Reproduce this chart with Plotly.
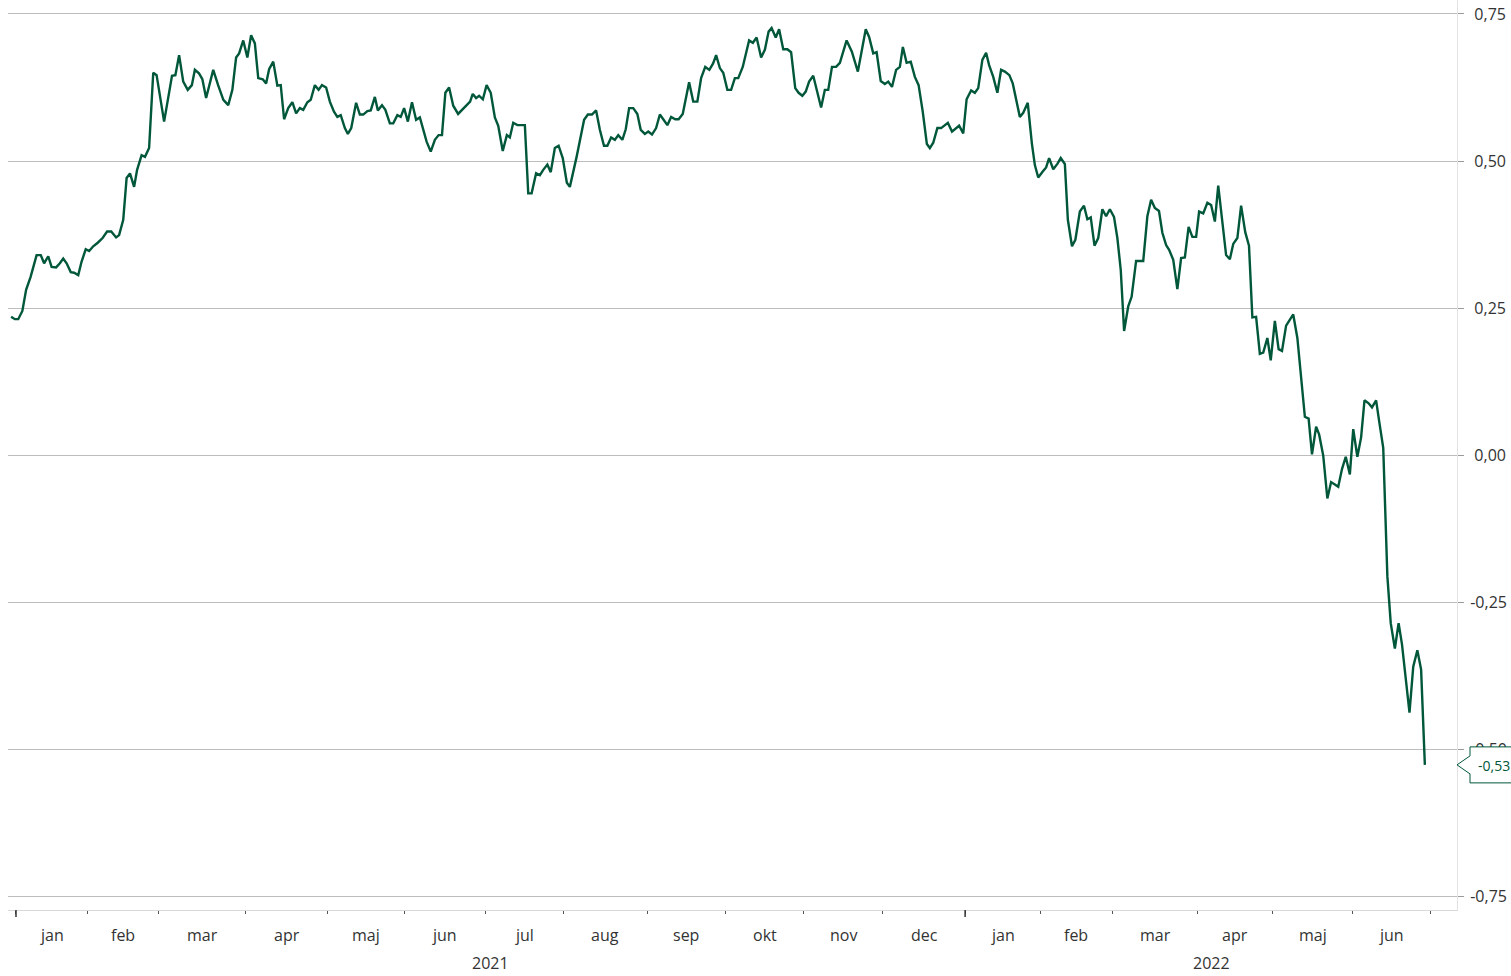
import plotly.graph_objects as go

# ---- data (x = trading-day index from 1 Jan 2021) ----
x_day = [
    -1.3, -0.3, 0.6, 1.7, 2.7, 3.9, 5.5, 6.6, 7.5, 8.6, 9.5, 10.7, 11.7, 12.6, 13.5, 14.6, 15.5, 16.6, 17.5, 18.6,
    19.5, 20.6, 21.8, 23.1, 24.3, 25.4, 26.7, 27.5, 28.6, 29.5, 30.4, 31.5, 32.3, 33.5, 34.4, 35.5, 36.6, 37.5, 39.5, 40.6,
    41.6, 42.5, 43.5, 44.6, 45.8, 46.9, 47.7, 48.8, 49.7, 50.7, 52.6, 53.9, 55.3, 56.6, 57.7, 58.7, 59.5, 60.6, 61.7, 62.7,
    63.7, 64.6, 65.8, 66.7, 67.5, 68.6, 69.7, 70.6, 71.5, 72.6, 73.7, 74.7, 75.7, 76.6, 77.7, 78.6, 79.7, 80.7, 81.6, 82.7,
    83.7, 84.8, 85.7, 86.6, 87.7, 88.5, 89.4, 90.7, 91.7, 92.6, 93.7, 94.6, 95.7, 96.5, 97.6, 98.5, 99.7, 100.6, 101.7, 102.6,
    103.5, 104.5, 105.6, 106.7, 107.7, 109.5, 110.6, 111.7, 112.7, 113.6, 114.5, 115.5, 116.6, 117.9, 118.9, 120.0, 121.1, 121.8, 122.7, 123.5,
    124.5, 125.5,
    126.6, 127.7, 128.6, 129.8, 130.9, 131.7, 132.6, 133.7, 135.7, 136.6, 137.5, 138.7, 139.7, 140.6, 141.7, 142.6, 143.7, 144.7, 145.8, 146.9,
    147.7, 149.5, 151.5, 152.5, 153.6, 154.7, 155.7, 156.8, 157.7, 158.7, 159.7, 160.6, 161.7, 162.6, 163.5, 164.6, 165.7, 166.6, 167.7, 168.6,
    169.6, 170.7, 171.7, 172.6, 173.7, 174.7, 175.8, 176.7, 177.8, 179.5, 180.6, 181.7, 182.7, 183.8, 184.9, 185.9, 186.7, 187.7, 188.6,
    189.7, 190.7, 191.7, 192.6, 193.8, 195.5, 196.5, 197.5, 198.7, 199.7, 200.7, 201.5, 202.6, 203.5, 204.6, 205.7, 206.7, 207.8, 208.7, 209.7,
    210.6, 211.5, 212.6, 214.7, 215.7, 216.6, 217.6, 218.7, 219.7, 221.5, 222.9, 224.5, 226.6, 227.5, 228.6, 229.5, 230.6, 231.7, 232.6, 233.6,
    234.7, 235.7, 236.5, 237.5, 238.6, 239.7, 240.7, 241.8, 242.9, 243.7, 244.6, 245.7, 246.7, 248.5, 249.6, 251.5, 252.6, 253.5,
    254.7, 255.7, 256.6, 257.7, 258.7, 259.5, 260.6, 261.7, 262.7, 263.7, 264.9, 265.8, 267.7, 268.6, 269.8, 270.9, 271.7, 272.6, 273.8, 274.7,
    275.5, 276.6, 277.7, 278.6, 279.7, 280.5, 281.6, 282.5, 283.7, 284.8, 285.7, 286.6, 287.6, 288.6, 289.7, 290.7, 291.7, 292.8, 293.7, 294.6,
    295.5, 296.6, 297.5, 298.7, 300.6, 301.7, 302.7, 303.7, 304.8, 305.7, 306.7, 307.5, 308.6, 309.7, 310.7, 311.7, 312.7, 313.7, 314.7, 315.5,
    316.6, 317.7, 318.7, 319.7, 320.6, 321.6, 322.7, 323.7, 324.6, 325.7, 326.7, 327.8, 328.8, 329.7, 330.7, 331.7, 332.6, 333.7, 334.6, 335.7,
    336.7, 337.6, 338.7, 340.6, 341.7, 343.7, 344.7, 345.6, 346.7, 347.5, 348.6, 349.7, 350.7, 351.7, 352.6, 353.6, 354.6, 355.7, 356.6, 357.7,
    358.7, 359.6, 360.7, 361.6, 362.7, 363.5, 364.6, 365.7, 366.6, 367.7, 368.7, 369.6, 370.7, 371.6, 372.6, 373.7, 374.7, 375.7,
]

value = [
    0.235, 0.231, 0.231, 0.245, 0.281, 0.303, 0.340, 0.340, 0.326, 0.338, 0.320, 0.319, 0.326, 0.334, 0.326, 0.311, 0.310, 0.306, 0.329, 0.350,
    0.347, 0.355, 0.361, 0.369, 0.380, 0.380, 0.370, 0.374, 0.400, 0.471, 0.479, 0.456, 0.485, 0.510, 0.507, 0.522, 0.650, 0.646, 0.567, 0.612,
    0.645, 0.646, 0.680, 0.635, 0.621, 0.629, 0.655, 0.649, 0.639, 0.607, 0.655, 0.629, 0.604, 0.595, 0.621, 0.676, 0.683, 0.705, 0.676, 0.714,
    0.700, 0.641, 0.639, 0.632, 0.656, 0.669, 0.628, 0.629, 0.571, 0.590, 0.600, 0.581, 0.590, 0.587, 0.600, 0.604, 0.629, 0.621, 0.629, 0.625,
    0.601, 0.584, 0.575, 0.578, 0.556, 0.546, 0.556, 0.599, 0.579, 0.579, 0.585, 0.586, 0.609, 0.586, 0.595, 0.587, 0.564, 0.564, 0.578, 0.575,
    0.590, 0.567, 0.600, 0.570, 0.574, 0.533, 0.516, 0.536, 0.544, 0.544, 0.616, 0.625, 0.594, 0.580, 0.587, 0.595, 0.601, 0.614, 0.607, 0.611,
    0.605, 0.629,
    0.616, 0.574, 0.560, 0.517, 0.544, 0.540, 0.565, 0.561, 0.561, 0.445, 0.445, 0.479, 0.476, 0.485, 0.494, 0.481, 0.522, 0.526, 0.505, 0.463,
    0.456, 0.507, 0.570, 0.579, 0.579, 0.586, 0.553, 0.526, 0.526, 0.540, 0.536, 0.544, 0.536, 0.554, 0.590, 0.590, 0.580, 0.553, 0.546, 0.550,
    0.545, 0.556, 0.579, 0.571, 0.561, 0.575, 0.571, 0.571, 0.580, 0.634, 0.601, 0.601, 0.641, 0.660, 0.655, 0.666, 0.680, 0.658, 0.650,
    0.621, 0.621, 0.641, 0.641, 0.660, 0.705, 0.701, 0.710, 0.676, 0.689, 0.720, 0.726, 0.710, 0.724, 0.690, 0.690, 0.685, 0.624, 0.616, 0.611,
    0.618, 0.635, 0.645, 0.591, 0.621, 0.621, 0.660, 0.660, 0.667, 0.705, 0.686, 0.652, 0.724, 0.711, 0.683, 0.685, 0.636, 0.631, 0.635, 0.626,
    0.655, 0.660, 0.694, 0.667, 0.669, 0.643, 0.629, 0.584, 0.529, 0.522, 0.531, 0.556, 0.556, 0.565, 0.550, 0.560, 0.547, 0.605,
    0.620, 0.616, 0.624, 0.672, 0.684, 0.663, 0.643, 0.616, 0.655, 0.652, 0.646, 0.632, 0.575, 0.582, 0.599, 0.530, 0.493, 0.472, 0.482, 0.489,
    0.505, 0.486, 0.495, 0.505, 0.495, 0.400, 0.355, 0.366, 0.414, 0.424, 0.401, 0.404, 0.356, 0.369, 0.418, 0.406, 0.418, 0.405, 0.369, 0.315,
    0.211, 0.253, 0.269, 0.330, 0.330, 0.406, 0.434, 0.420, 0.415, 0.378, 0.357, 0.349, 0.332, 0.282, 0.335, 0.336, 0.388, 0.371, 0.371, 0.414,
    0.411, 0.429, 0.425, 0.397, 0.458, 0.405, 0.340, 0.333, 0.359, 0.369, 0.424, 0.379, 0.356, 0.234, 0.235, 0.172, 0.174, 0.199, 0.161, 0.228,
    0.180, 0.177, 0.220, 0.239, 0.199, 0.065, 0.062, 0.001, 0.048, 0.035, -0.001, -0.074, -0.046, -0.050, -0.054, -0.024, -0.003, -0.033, 0.044, -0.003,
    0.030, 0.093, 0.088, 0.081, 0.093, 0.058, 0.012, -0.206, -0.286, -0.329, -0.286, -0.322, -0.388, -0.438, -0.360, -0.332, -0.365, -0.527,
]
assert len(x_day) == len(value), (len(x_day), len(value))

# month boundaries (trading-day index) and labels
month_start = [0, 19.2, 38.1, 61.3, 83.2, 103.5, 125.3, 146.1, 168.3, 189.3, 210.1, 231.2,
               253.1, 273.3, 292.3, 315.2, 335.2, 356.3, 377.1]
month_labels = ["jan", "feb", "mar", "apr", "maj", "jun", "jul", "aug", "sep", "okt", "nov", "dec",
                "jan", "feb", "mar", "apr", "maj", "jun"]
year_start = [0, 253.1]
year_labels = ["2021", "2022"]

y_ticks = [-0.75, -0.5, -0.25, 0.0, 0.25, 0.5, 0.75]
y_ticklabels = ["-0,75", "-0,50", "-0,25", "\u00a00,00", "\u00a00,25", "\u00a00,50", "\u00a00,75"]

X_RANGE = [-2.13, 384.27]
Y_RANGE = [-0.7738, 0.7738]

GREEN = "#00573a"
TEXT = "#333333"
FONT = "Open Sans"

fig = go.Figure()
fig.add_trace(go.Scatter(x=x_day, y=value, mode="lines",
                         line=dict(color=GREEN, width=2.4), hoverinfo="skip", showlegend=False))

fig.update_layout(
    width=1511, height=976,
    margin=dict(l=8, r=54, t=0, b=66, autoexpand=False),
    paper_bgcolor="white", plot_bgcolor="white",
    font=dict(family=FONT, size=16, color=TEXT),
    showlegend=False,
    hovermode=False,
)

fig.update_xaxes(
    range=X_RANGE, tickvals=month_start, showticklabels=False,
    ticks="outside", ticklen=3, tickwidth=1, tickcolor="#555555",
    showgrid=False, zeroline=False,
    showline=True, linecolor="#d9d9d9", linewidth=1,
)
fig.update_yaxes(
    range=Y_RANGE, side="right", tickvals=y_ticks, ticktext=y_ticklabels,
    ticks="outside", ticklen=6, tickwidth=1, tickcolor="#999999",
    ticklabelstandoff=3, ticklabeloverflow="allow",
    tickfont=dict(family=FONT, size=16, color=TEXT),
    showgrid=True, gridcolor="#bdbdbd", gridwidth=1, zeroline=False,
    showline=True, linecolor="#e3e3e3", linewidth=1,
)

# month labels centred between month boundaries
for i, lab in enumerate(month_labels):
    mid = (month_start[i] + month_start[i + 1]) / 2
    fig.add_annotation(x=mid, xref="x", y=0, yref="paper", text=lab, showarrow=False,
                       yanchor="middle", yshift=-25, font=dict(family=FONT, size=16, color=TEXT))

# year labels and longer year ticks
year_bounds = year_start + [X_RANGE[1]]
for i, lab in enumerate(year_labels):
    mid = (year_bounds[i] + year_bounds[i + 1]) / 2
    fig.add_annotation(x=mid, xref="x", y=0, yref="paper", text=lab, showarrow=False,
                       yanchor="middle", yshift=-53, font=dict(family=FONT, size=16, color=TEXT))
    fig.add_shape(type="line", xref="x", yref="paper", x0=year_start[i], x1=year_start[i],
                  ysizemode="pixel", yanchor=0, y0=0, y1=-7,
                  line=dict(color="#333333", width=1.5), layer="above")

# last-value callout
last_val = value[-1]
last_txt = f"{last_val:.2f}".replace(".", ",")
fig.add_shape(type="path", xref="paper", yref="y",
              xsizemode="pixel", xanchor=1, ysizemode="pixel", yanchor=last_val,
              path="M 0 0 L 13 9 L 13 18 L 90 18 L 90 -18 L 13 -18 L 13 -9 Z",
              fillcolor="white", line=dict(color=GREEN, width=1), layer="above")
fig.add_annotation(x=1, xref="paper", y=last_val, yref="y", text=last_txt, showarrow=False,
                   xanchor="left", xshift=19, yanchor="middle", yshift=-1,
                   font=dict(family=FONT, size=14, color=GREEN))

fig.write_html("out.html", config={"displayModeBar": False},
               post_script="document.body.style.margin='0';document.body.style.overflow='hidden';")
